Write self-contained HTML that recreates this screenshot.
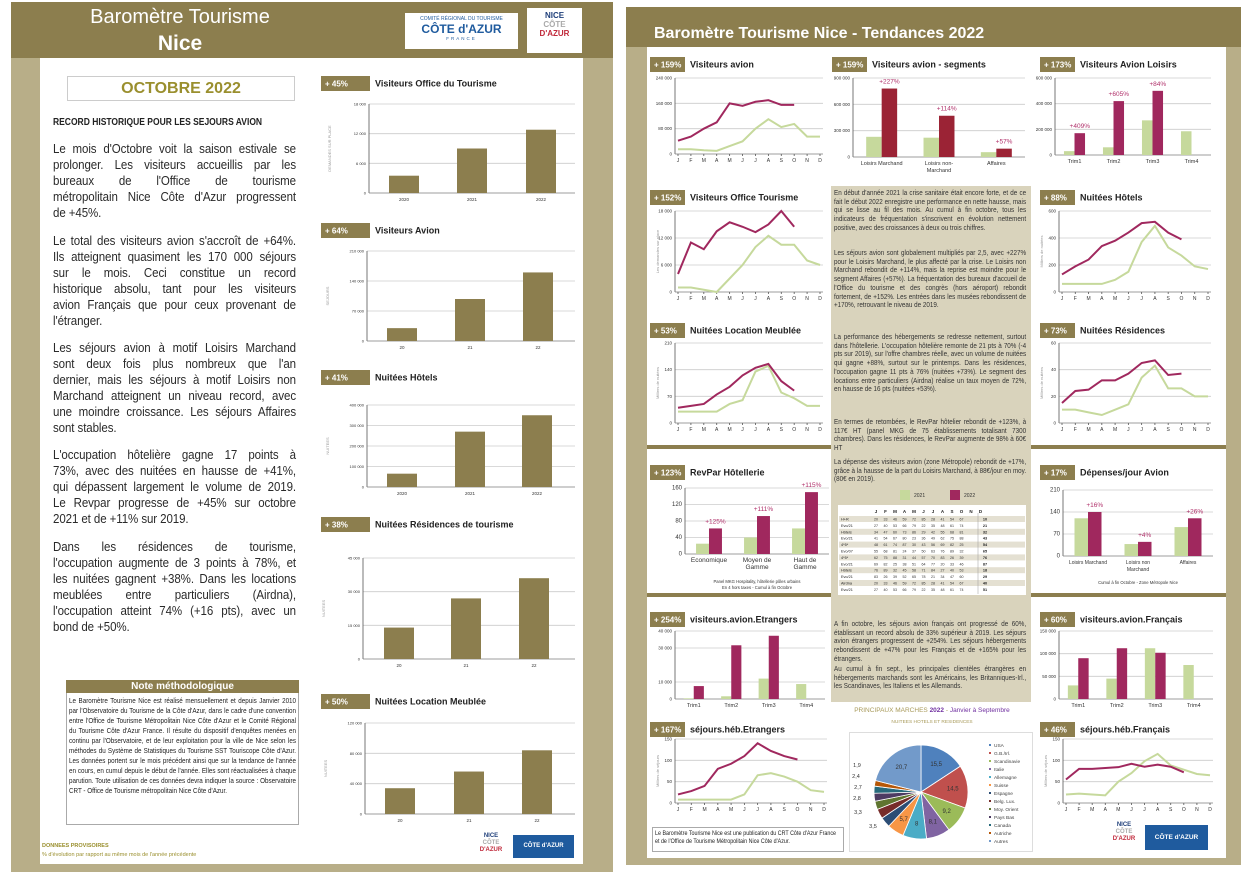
<!DOCTYPE html>
<html><head><meta charset="utf-8"><style>
body{margin:0;width:1251px;height:880px;overflow:hidden;background:#fff;font-family:"Liberation Sans",sans-serif;position:relative}
.a{position:absolute}
.ln{white-space:nowrap;text-align:justify;text-align-last:justify;height:16px;line-height:16px;overflow:visible}
.ln.e{text-align-last:left}
.p{position:absolute;left:53px;width:270px;transform:scaleX(0.9);transform-origin:0 0;font-size:12.8px;letter-spacing:-0.1px;color:#2a2a2a}
.bp{position:absolute;left:834px;width:226px;transform:scaleX(0.85);transform-origin:0 0;font-size:7.4px;line-height:8.7px;color:#333;text-align:justify}
</style></head><body>
<div class="a" style="left:11px;top:2px;width:602px;height:870px;background:#b8ae88"></div>
<div class="a" style="left:11px;top:2px;width:602px;height:56px;background:#8c7e4e"></div>
<div class="a" style="left:40px;top:58px;width:543px;height:806px;background:#fff"></div>
<div class="a" style="left:60px;top:5px;width:240px;text-align:center;color:#fff;font-size:20px;line-height:24px">Baromètre Tourisme</div>
<div class="a" style="left:60px;top:32px;width:240px;text-align:center;color:#fff;font-size:21px;font-weight:bold;line-height:24px">Nice</div>
<div class="a" style="left:405px;top:13px;width:113px;height:36px;background:#fff;text-align:center;color:#1f5b9e">
<div style="font-size:5px;margin-top:3px">COMITÉ RÉGIONAL DU TOURISME</div><div style="font-size:12px;font-weight:bold;line-height:14px">CÔTE d'AZUR</div><div style="font-size:4.5px;letter-spacing:2px">FRANCE</div></div>
<div class="a" style="left:527px;top:8px;width:55px;height:45px;background:#fff;font-size:8px;font-weight:bold;line-height:9px;text-align:center">
<div style="color:#1f3f7a;margin-top:3px">NICE</div><div style="color:#aaa">CÔTE</div><div style="color:#c0283a">D'AZUR</div></div>
<div class="a" style="left:67px;top:76px;width:226px;height:23px;border:1px solid #ccc;text-align:center;color:#9a8f2e;font-size:16px;font-weight:bold;line-height:23px">OCTOBRE 2022</div>
<div class="a" style="left:53px;top:117px;font-size:10px;font-weight:bold;color:#222;transform:scaleX(0.85);transform-origin:0 0;white-space:nowrap">RECORD HISTORIQUE POUR LES SEJOURS AVION</div>
<div class="p" style="top:141px"><div class="ln">Le mois d'Octobre voit la saison estivale se</div><div class="ln">prolonger. Les visiteurs accueillis par les</div><div class="ln">bureaux de l'Office de tourisme</div><div class="ln">métropolitain Nice Côte d'Azur progressent</div><div class="ln e">de +45%.</div></div>
<div class="p" style="top:233px"><div class="ln">Le total des visiteurs avion s'accroît de +64%.</div><div class="ln">Ils atteignent quasiment les 170 000 séjours</div><div class="ln">sur le mois. Ceci constitue un record</div><div class="ln">historique absolu, tant pour les visiteurs</div><div class="ln">avion Français que pour ceux provenant de</div><div class="ln e">l'étranger.</div></div>
<div class="p" style="top:340px"><div class="ln">Les séjours avion à motif Loisirs Marchand</div><div class="ln">sont deux fois plus nombreux que l'an</div><div class="ln">dernier, mais les séjours à motif Loisirs non</div><div class="ln">Marchand atteignent un niveau record, avec</div><div class="ln">une moindre croissance. Les séjours Affaires</div><div class="ln e">sont stables.</div></div>
<div class="p" style="top:447px"><div class="ln">L'occupation hôtelière gagne 17 points à</div><div class="ln">73%, avec des nuitées en hausse de +41%,</div><div class="ln">qui dépassent largement le volume de 2019.</div><div class="ln">Le Revpar progresse de +45% sur octobre</div><div class="ln e">2021 et de +11% sur 2019.</div></div>
<div class="p" style="top:539px"><div class="ln">Dans les résidences de tourisme,</div><div class="ln">l'occupation augmente de 3 points à 78%, et</div><div class="ln">les nuitées gagnent +38%. Dans les locations</div><div class="ln">meublées entre particuliers (Airdna),</div><div class="ln">l'occupation atteint 74% (+16 pts), avec un</div><div class="ln e">bond de +50%.</div></div>
<div class="a" style="left:66px;top:680px;width:231px;height:143px;border:1px solid #aaa;background:#fff"></div>
<div class="a" style="left:66px;top:680px;width:233px;height:13px;background:#8c7e4e;color:#fff;font-size:10px;font-weight:bold;text-align:center;line-height:13px">Note méthodologique</div>
<div class="a" style="left:69px;top:696px;width:264px;transform:scaleX(0.86);transform-origin:0 0;font-size:7.3px;line-height:10px;color:#222;text-align:justify">Le Baromètre Tourisme Nice est réalisé mensuellement et depuis Janvier 2010 par l'Observatoire du Tourisme de la Côte d'Azur, dans le cadre d'une convention entre l'Office de Tourisme Métropolitain Nice Côte d'Azur et le Comité Régional du Tourisme Côte d'Azur France. Il résulte du dispositif d'enquêtes menées en continu par l'Observatoire, et de leur exploitation pour la ville de Nice selon les méthodes du Système de Statistiques du Tourisme SST Touriscope Côte d'Azur. Les données portent sur le mois précédent ainsi que sur la tendance de l'année en cours, en cumul depuis le début de l'année. Elles sont réactualisées à chaque parution. Toute utilisation de ces données devra indiquer la source : Observatoire CRT - Office de Tourisme métropolitain Nice Côte d'Azur.</div>
<div class="a" style="left:42px;top:843px;font-size:5.5px;color:#9a8f2e;font-weight:bold">DONNEES PROVISOIRES</div>
<div class="a" style="left:42px;top:852px;font-size:5.5px;color:#9a8f2e">% d'évolution par rapport au même mois de l'année précédente</div>
<div class="a" style="left:476px;top:833px;width:30px;font-size:6px;font-weight:bold;line-height:7px;text-align:center"><div style="color:#1f3f7a">NICE</div><div style="color:#aaa">CÔTE</div><div style="color:#c0283a">D'AZUR</div></div>
<div class="a" style="left:513px;top:835px;width:61px;height:23px;background:#1f5b9e;color:#fff;font-size:6px;font-weight:bold;text-align:center;line-height:23px">CÔTE d'AZUR</div>

<div class="a" style="left:626px;top:7px;width:615px;height:858px;background:#b8ae88"></div>
<div class="a" style="left:626px;top:7px;width:615px;height:40px;background:#8c7e4e"></div>
<div class="a" style="left:647px;top:47px;width:579px;height:811px;background:#fff"></div>
<div class="a" style="left:647px;top:445px;width:579px;height:4px;background:#8c7e4e"></div>
<div class="a" style="left:647px;top:593px;width:579px;height:4px;background:#8c7e4e"></div>
<div class="a" style="left:654px;top:25px;color:#fff;font-size:16px;font-weight:bold">Baromètre Tourisme Nice - Tendances 2022</div>
<div class="a" style="left:831px;top:186px;width:200px;height:516px;background:#d9d3bc"></div>
<div class="bp" style="top:189px">En début d'année 2021 la crise sanitaire était encore forte, et de ce fait le début 2022 enregistre une performance en nette hausse, mais qui se lisse au fil des mois. Au cumul à fin octobre, tous les indicateurs de fréquentation s'inscrivent en évolution nettement positive, avec des croissances à deux ou trois chiffres.</div>
<div class="bp" style="top:249px">Les séjours avion sont globalement multipliés par 2,5, avec +227% pour le Loisirs Marchand, le plus affecté par la crise. Le Loisirs non Marchand rebondit de +114%, mais la reprise est moindre pour le segment Affaires (+57%). La fréquentation des bureaux d'accueil de l'Office du tourisme et des congrès (hors aéroport) rebondit fortement, de +152%. Les entrées dans les musées rebondissent de +170%, retrouvant le niveau de 2019.</div>
<div class="bp" style="top:333px">La performance des hébergements se redresse nettement, surtout dans l'hôtellerie. L'occupation hôtelière remonte de 21 pts à 70% (-4 pts sur 2019), sur l'offre chambres réelle, avec un volume de nuitées qui gagne +88%, surtout sur le printemps. Dans les résidences, l'occupation gagne 11 pts à 76% (nuitées +73%). Le segment des locations entre particuliers (Airdna) réalise un taux moyen de 72%, en hausse de 16 pts (nuitées +53%).</div>
<div class="bp" style="top:418px">En termes de retombées, le RevPar hôtelier rebondit de +123%, à 117€ HT (panel MKG de 75 établissements totalisant 7300 chambres). Dans les résidences, le RevPar augmente de 98% à 60€ HT</div>
<div class="bp" style="top:458px">La dépense des visiteurs avion (zone Métropole) rebondit de +17%, grâce à la hausse de la part du Loisirs Marchand, à 88€/jour en moy. (80€ en 2019).</div>
<div class="bp" style="top:620px">A fin octobre, les séjours avion français ont progressé de 60%, établissant un record absolu de 33% supérieur à 2019. Les séjours avion étrangers progressent de +254%. Les séjours hébergements rebondissent de +47% pour les Français et de +165% pour les étrangers.</div>
<div class="bp" style="top:665px">Au cumul à fin sept., les principales clientèles étrangères en hébergements marchands sont les Américains, les Britanniques-Irl., les Scandinaves, les Italiens et les Allemands.</div>
<div class="a" style="left:652px;top:827px;width:190px;height:23px;border:1px solid #aaa;background:#fff"></div>
<div class="a" style="left:655px;top:830px;width:216px;transform:scaleX(0.85);transform-origin:0 0;font-size:6.3px;line-height:8px;color:#222">Le Baromètre Tourisme Nice est une publication du CRT Côte d'Azur France et de l'Office de Tourisme Métropolitain Nice Côte d'Azur.</div>
<div class="a" style="left:849px;top:732px;width:182px;height:118px;border:1px solid #ddd"></div>
<div class="a" style="left:1108px;top:822px;width:32px;font-size:6px;font-weight:bold;line-height:7px;text-align:center"><div style="color:#1f3f7a">NICE</div><div style="color:#aaa">CÔTE</div><div style="color:#c0283a">D'AZUR</div></div>
<div class="a" style="left:1145px;top:825px;width:63px;height:25px;background:#1f5b9e;color:#fff;font-size:6.5px;font-weight:bold;text-align:center;line-height:25px">CÔTE d'AZUR</div>

<svg id="s" class="a" style="left:0;top:0" width="1251" height="880" font-family="Liberation Sans, sans-serif"></svg>
<script>
let o='';
const OL='#8c7e4e',G='#c6d99c',MR='#a0285e',DR='#9b2335';
function fm(v){return String(v).replace(/\B(?=(\d{3})+(?!\d))/g,' ')}
function t(x,y,s,z,f,a,e){o+=`<text x="${x}" y="${y}" font-size="${z}" fill="${f||'#333'}" text-anchor="${a||'start'}" ${e||''}>${s}</text>`}
function r(x,y,w,h,f){o+=`<rect x="${x}" y="${y}" width="${w}" height="${h}" fill="${f}"/>`}
function l(a,b,c,d,s,w){o+=`<line x1="${a}" y1="${b}" x2="${c}" y2="${d}" stroke="${s}" stroke-width="${w||0.8}"/>`}
function badge(x,y,s,title,w){r(x,y,w||35,15,OL);t(x+4,y+10.5,s,8,'#fff','start','font-weight="bold"');t(x+(w||35)+5,y+10.5,title,9,'#222','start','font-weight="bold"')}
function axes(x0,y0,x1,y1,max,ticks,fz){ticks.forEach(v=>{const y=y1-v/max*(y1-y0);l(x0,y,x1,y,'#ccc');t(x0-3,y+1.5,fm(v),fz||4.5,'#333','end')});l(x0,y0,x0,y1,'#555');l(x0,y1,x1,y1,'#888')}
function ytitle(x,y,s){t(x,y,s,4,'#999','middle',`transform="rotate(-90 ${x} ${y})"`)}
function lc(x0,y0,x1,y1,max,ticks,a,b,yt){axes(x0,y0,x1,y1,max,ticks);const M='JFMAMJJASOND',X=i=>x0+3+i*(x1-x0-6)/11,Y=v=>y1-v/max*(y1-y0);
for(let i=0;i<12;i++){t(X(i),y1+8,M[i],5,'#333','middle');l(X(i),y1,X(i),y1+2,'#555')}
o+=`<polyline fill="none" stroke="${G}" stroke-width="2" points="${b.map((v,i)=>X(i)+','+Y(v)).join(' ')}"/>`;
o+=`<polyline fill="none" stroke="${MR}" stroke-width="2" points="${a.map((v,i)=>X(i)+','+Y(v)).join(' ')}"/>`;if(yt)ytitle(x0-16,(y0+y1)/2,yt)}
function bc(x0,y0,x1,y1,max,ticks,cats,g,m,labs,c2,fz,cz){axes(x0,y0,x1,y1,max,ticks,fz);const n=cats.length,gw=(x1-x0)/n,bw=gw*0.27;
cats.forEach((c,i)=>{const cx=x0+gw*(i+0.5);if(g[i]!=null){const h=g[i]/max*(y1-y0);r(cx-bw,y1-h,bw,h,G)}
if(m[i]!=null){const h=m[i]/max*(y1-y0);r(cx,y1-h,bw,h,c2);if(labs[i])t(cx+bw/2,y1-h-5,labs[i],6.5,'#b0306a','middle')}
c.split('|').forEach((s,k)=>t(cx,y1+8+k*7,s,cz||5.5,'#333','middle'))})}
function sb(x0,y0,x1,y1,max,ticks,cats,vals,cx,yt){axes(x0,y0,x1,y1,max,ticks,4);cats.forEach((c,i)=>{const h=vals[i]/max*(y1-y0);r(cx[i]-15,y1-h,30,h,OL);t(cx[i],y1+8,c,4.5,'#333','middle')});ytitle(x0-38,(y0+y1)/2,yt)}
badge(321,76,'+ 45%','Visiteurs Office du Tourisme',49);
sb(369,104,575,193,18000,[0,6000,12000,18000],['2020','2021','2022'],[3500,9000,12800],[404,472,541],'DEMANDES SUR PLACE');
badge(321,223,'+ 64%','Visiteurs Avion',49);
sb(367,251,575,341,210000,[0,70000,140000,210000],['20','21','22'],[30000,98000,160000],[402,470,538],'SEJOURS');
badge(321,370,'+ 41%','Nuitées Hôtels',49);
sb(367,405,575,487,400000,[0,100000,200000,300000,400000],['2020','2021','2022'],[65000,270000,350000],[402,470,537],'NUITEES');
badge(321,517,'+ 38%','Nuitées Résidences de tourisme',49);
sb(363,558,575,659,45000,[0,15000,30000,45000],['20','21','22'],[14000,27000,36000],[399,466,534],'NUITEES');
badge(321,694,'+ 50%','Nuitées Location Meublée',49);
sb(365,723,575,814,120000,[0,40000,80000,120000],['20','21','22'],[34000,56000,84000],[400,469,537],'NUITEES');
badge(650,57,'+ 159%','Visiteurs avion');
lc(675,78,823,154,240000,[0,80000,160000,240000],[42000,55000,80000,100000,160000,152000,165000,170000,155000,155000],[15000,15000,12000,10000,25000,40000,80000,110000,85000,95000,55000,55000]);
badge(832,57,'+ 159%','Visiteurs avion - segments');
bc(853,78,1025,157,900000,[0,300000,600000,900000],['Loisirs Marchand','Loisirs non-|Marchand','Affaires'],[230000,220000,55000],[780000,470000,95000],['+227%','+114%','+57%'],DR);
badge(1040,57,'+ 173%','Visiteurs Avion Loisirs');
bc(1055,78,1211,155,600000,[0,200000,400000,600000],['Trim1','Trim2','Trim3','Trim4'],[30000,60000,270000,185000],[170000,420000,500000,null],['+409%','+605%','+84%'],MR);
badge(650,190,'+ 152%','Visiteurs Office Tourisme');
lc(675,211,823,292,18000,[0,6000,12000,18000],[4000,11000,9500,13500,15500,14500,13300,15000,18000,14500],[1000,1000,500,0,3000,6000,10000,12500,10500,10500,7000,6000],'Les demandes sur place');
badge(1040,190,'+ 88%','Nuitées Hôtels');
lc(1059,211,1211,292,600,[0,200,400,600],[130,190,240,340,380,440,510,520,440,390],[60,60,60,60,90,150,370,490,330,270,190,170],'Milliers de nuitées');
badge(650,323,'+ 53%','Nuitées Location Meublée');
lc(675,343,823,423,210,[0,70,140,210],[40,45,50,75,95,125,145,155,110,85],[30,30,30,30,50,60,135,150,80,65,45,45],'Milliers de nuitées');
badge(1040,323,'+ 73%','Nuitées Résidences');
lc(1059,343,1211,423,60,[0,20,40,60],[15,24,25,32,32,37,45,47,36,37],[10,10,8,6,10,14,34,43,26,26,20,20],'Milliers de nuitées');
badge(650,465,'+ 123%','RevPar Hôtellerie');
bc(685,488,829,554,160,[0,40,80,120,160],['Economique','Moyen de|Gamme','Haut de|Gamme'],[25,40,62],[62,92,150],['+125%','+111%','+115%'],MR,6,6.5);
t(757,583,'Panel MKG Hospitality, hôtellerie pôles urbains',4.2,'#333','middle');t(757,589,'En 4 hors taxes - Cumul à fin Octobre',4.2,'#333','middle');
badge(1040,465,'+ 17%','Dépenses/jour Avion');
bc(1063,490,1213,556,210,[0,70,140,210],['Loisirs Marchand','Loisirs non|Marchand','Affaires'],[120,38,92],[140,45,120],['+16%','+4%','+26%'],MR,6,5);
t(1138,584,'Cumul à fin Octobre - Zone Métropole Nice',4.2,'#333','middle');
badge(650,612,'+ 254%','visiteurs.avion.Etrangers');
bc(675,631,825,699,40000,[0,10000,30000,40000],['Trim1','Trim2','Trim3','Trim4'],[400,1600,12000,8800],[7600,31600,37200,null],[],MR);
badge(1040,612,'+ 60%','visiteurs.avion.Français');
bc(1059,631,1213,699,150000,[0,50000,100000,150000],['Trim1','Trim2','Trim3','Trim4'],[30000,45000,112000,75000],[90000,112000,102000,null],[],MR);
badge(650,722,'+ 167%','séjours.héb.Etrangers');
lc(675,739,827,803,150,[0,50,100,150],[20,28,40,80,92,110,140,122,110,102],[8,8,8,8,8,20,65,70,62,50,30,26],'Milliers de séjours');
badge(1040,722,'+ 46%','séjours.héb.Français');
lc(1063,739,1213,803,150,[0,50,100,150],[55,80,80,82,84,92,85,90,85,72],[20,22,20,18,50,70,98,115,88,78,68,65],'Milliers de séjours');
r(900,490,10,10,G);t(914,497,'2021',5,'#333');r(950,490,10,10,MR);t(964,497,'2022',5,'#333');
r(838,505,188,90,'#fff');
'JFMAMJJASOND'.split('').forEach((c,i)=>t(876+i*9.5,513,c,4.5,'#222','middle','font-weight="bold"'));
const rl=['H+R','Evo/21','Hôtels','Evo/21','4*5*','Evo/07','4*5*','Evo/21','Hôtels','Evo/21','Airdna','Evo/21'];
rl.forEach((s,k)=>{const y=516+k*6.4;if(k%2==0)r(839,y,186,6,'#e4e0d2');t(841,y+4.5,s,3.8,'#222');for(let i=0;i<10;i++)t(876+i*9.5,y+4.5,String(20+((k*7+i*13)%70)),3.6,'#333','middle');t(985,y+4.5,String(10+(k*11)%80),3.8,'#222','middle','font-weight="bold"')});
l(978,513,978,594,'#999',0.5);
t(932,712,'PRINCIPAUX MARCHES <tspan fill="#7030a0" font-weight="bold">2022</tspan> - <tspan fill="#7030a0">Janvier à Septembre</tspan>',6.5,'#a89a5a','middle');
t(932,723,'NUITEES HOTELS ET RESIDENCES',4.8,'#a89a5a','middle');
const pv=[15.5,14.5,9.2,8.1,8.0,5.7,3.5,3.3,2.8,2.7,2.4,1.9,20.7],pc=['#4f81bd','#c0504d','#9bbb59','#8064a2','#4bacc6','#f79646','#2c4d75','#772c2a','#5f7530','#4d3b62','#276a7c','#b65708','#729aca'];
const pn=['USA','G.B./Irl.','Scandinavie','Italie','Allemagne','Suisse','Espagne','Belg. Lux.','Moy. Orient','Pays Bas','Canada','Autriche','Autres'];
const cx=921,cy=792,R=47,tot=pv.reduce((a,b)=>a+b);let ang=-Math.PI/2;
pv.forEach((v,i)=>{const a2=ang+v/tot*2*Math.PI,la=a2-ang>Math.PI?1:0;
o+=`<path d="M${cx},${cy} L${cx+R*Math.cos(ang)},${cy+R*Math.sin(ang)} A${R},${R} 0 ${la} 1 ${cx+R*Math.cos(a2)},${cy+R*Math.sin(a2)} Z" fill="${pc[i]}" stroke="#fff" stroke-width="0.8"/>`;
const m=(ang+a2)/2;if(v>5)t(cx+R*0.68*Math.cos(m),cy+R*0.68*Math.sin(m)+2,String(v).replace('.',','),6,'#333','middle');
ang=a2;t(994,747+i*8,pn[i],4.8,'#444');r(989,744+i*8,2,2,pc[i])});
[['3,5',873,828],['3,3',858,814],['2,8',857,800],['2,7',858,789],['2,4',856,778],['1,9',857,767]].forEach(a=>t(a[1],a[2],a[0],5.5,'#333','middle'));
document.getElementById('s').innerHTML=o;
</script>
</body></html>
